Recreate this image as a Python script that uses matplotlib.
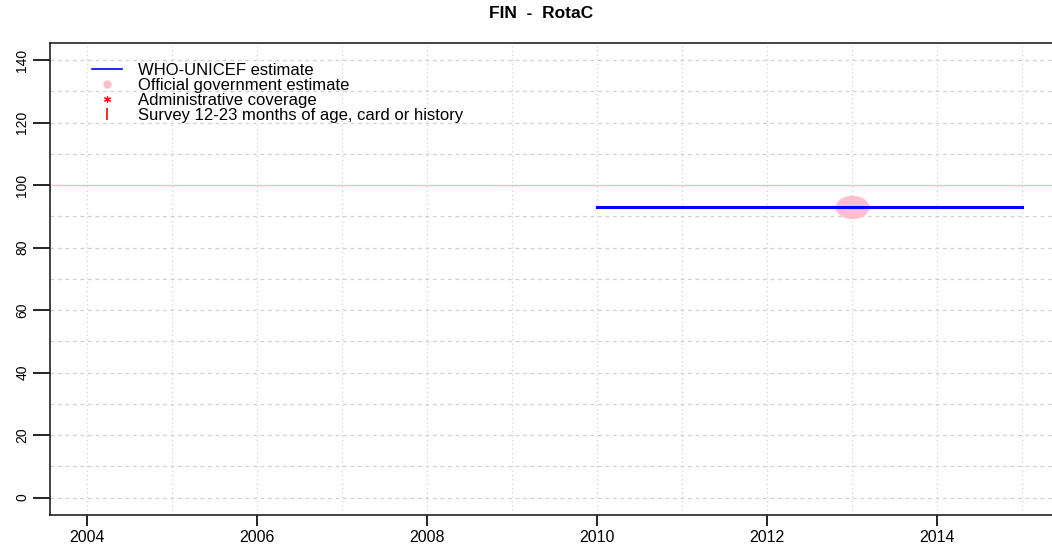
import numpy as np
import matplotlib.pyplot as plt
from matplotlib.path import Path
from matplotlib.lines import Line2D

plt.rcParams['font.family'] = ['Liberation Sans', 'DejaVu Sans']

# WHO-UNICEF estimate
wuenic_years = [2010, 2011, 2012, 2013, 2014, 2015]
wuenic_cov = [93, 93, 93, 93, 93, 93]

# official government estimate
gov_years = [2013]
gov_cov = [93]

x_ticks = [2004, 2006, 2008, 2010, 2012, 2014]
y_ticks = [0, 20, 40, 60, 80, 100, 120, 140]

# wide ellipse marker (the reference is stretched sideways)
circ = Path.unit_circle()
ell = Path(circ.vertices * np.array([1.45, 1.0]), circ.codes)

fig = plt.figure(figsize=(10.52, 5.48), dpi=100)
ax = fig.add_axes([50 / 1052, 1 - 515 / 548, 1009 / 1052, (515 - 42.7) / 548])

ax.set_xlim(2003.56, 2015.44)
ax.set_ylim(-5.6, 145.6)

# grid
for yr in range(2004, 2016):
    ax.axvline(yr, color='#d0d0d0', lw=0.9, ls=(0, (1, 2.5)), zorder=0)
for v in range(0, 150, 10):
    if v == 100:
        continue
    ax.axhline(v, color='#d0d0d0', lw=0.9, ls=(0, (3, 3)), zorder=0)
ax.axhline(100, color='pink', lw=1.0, zorder=0)

ax.plot(wuenic_years, wuenic_cov, color='blue', lw=2.2, zorder=3)
ax.plot(gov_years, gov_cov, ls='none', marker=ell, markersize=23,
        color='pink', zorder=2)

ax.set_xticks(x_ticks)
ax.set_yticks(y_ticks)
ax.tick_params(axis='x', length=8, width=1.2, labelsize=11.5, pad=3)
ax.tick_params(axis='y', length=12, width=1.2, labelsize=10, pad=3)
for lab in ax.get_yticklabels():
    lab.set_rotation(90)
    lab.set_va('center')
for s in ax.spines.values():
    s.set_linewidth(1.2)
    s.set_color('#222222')

handles = [
    Line2D([], [], color='blue', lw=1.2),
    Line2D([], [], ls='none', marker='o', color='pink', markersize=5),
    Line2D([], [], ls='none', marker=(6, 2, 0), color='red', markersize=5, mew=0.8),
    Line2D([], [], ls='none', marker='|', color='red', markersize=9, mew=1.2),
]
labels = ['WHO-UNICEF estimate', 'Official government estimate',
          'Administrative coverage', 'Survey 12-23 months of age, card or history']
ax.legend(handles, labels, loc='upper left', bbox_to_anchor=(0.035, 0.972),
          frameon=False, fontsize=12, labelspacing=0.0, handlelength=1.8,
          handletextpad=0.95, borderaxespad=0)

fig.text(541 / 1052, 1 - 14 / 548, 'FIN  -  RotaC', ha='center', va='center',
         fontsize=12.5, fontweight='bold')

plt.savefig('out.png', dpi=100)
